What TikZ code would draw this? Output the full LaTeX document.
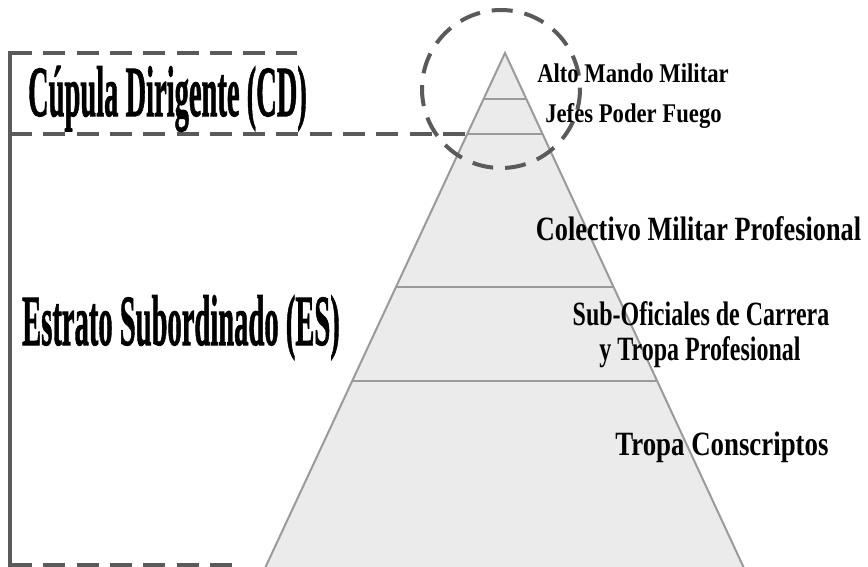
\documentclass[tikz,border=0pt]{standalone}
\usepackage{fontspec}
\usepackage{graphicx}
\usetikzlibrary{calc}
\setmainfont{Liberation Serif}
\newfontfamily\heavyf[FakeBold=1.4]{Liberation Serif Bold}
\definecolor{dgray}{HTML}{5A5A5A}
\definecolor{pgray}{HTML}{9A9A9A}
\definecolor{pfill}{HTML}{EBEBEB}
\newcommand{\sxb}[2]{\scalebox{#1}[1]{#2}}
\begin{document}
\begin{tikzpicture}[x=1pt,y=-1pt,
  bracketline/.style={draw=dgray, line width=4pt, dash pattern=on 22pt off 11.3pt},
  solidline/.style={draw=dgray, line width=4pt},
  ringline/.style={draw=dgray, line width=4pt, dash pattern=on 21pt off 12pt},
  pyrline/.style={draw=pgray, line width=2pt},
  bigtxt/.style={font=\fontsize{72}{72}\heavyf, inner sep=0pt, anchor=base},
  midtxt/.style={font=\fontsize{34}{38}\selectfont\bfseries, inner sep=0pt, anchor=base},
  smalltxt/.style={font=\fontsize{27}{27}\selectfont\bfseries, inner sep=0pt, anchor=base}]
\useasboundingbox (0,0) rectangle (868,566);
\clip (0,0) rectangle (868,566);
% pyramid geometry
\coordinate (apex) at (505,53);
\coordinate (bl) at (266,566);
\coordinate (br) at (743,566);
% bracket
\draw[bracketline] (10,53) -- (297,53);
\draw[bracketline] (10,134) -- (468,134);
\draw[bracketline] (10,565) -- (232,565);
\draw[solidline] (10,51) -- (10,570);
% pyramid
\fill[pfill] (apex) -- ($(apex)!1.05!(bl)$) -- ($(apex)!1.05!(br)$) -- cycle;
\draw[pyrline] ($(apex)!1.05!(bl)$) -- (apex) -- ($(apex)!1.05!(br)$);
\draw[pyrline] (483.6,99) -- (526.3,99);
\draw[pyrline] (467.3,134) -- (542.6,134);
\draw[pyrline] (395.6,287) -- (613.6,287);
\draw[pyrline] (351.8,381) -- (657.2,381);
% ring
\draw[ringline] (501,89) circle (79);
% labels
\node[bigtxt] (cd) at (167.5,116) {\sxb{0.396}{Cúpula Dirigente (CD)}};
\node[bigtxt] (es) at (181,345) {\sxb{0.397}{Estrato Subordinado (ES)}};
\node[smalltxt] (amm) at (633,82) {\sxb{0.84}{Alto Mando Militar}};
\node[smalltxt] (jpf) at (633.5,122) {\sxb{0.84}{Jefes Poder Fuego}};
\node[midtxt] (cmp) at (698.5,240) {\sxb{0.773}{Colectivo Militar Profesional}};
\node[midtxt] (soc) at (701,325) {\sxb{0.705}{Sub-Oficiales de Carrera}};
\node[midtxt] (ytp) at (700,360) {\sxb{0.705}{y Tropa Profesional}};
\node[midtxt] (tc) at (722,455) {\sxb{0.79}{Tropa Conscriptos}};
\end{tikzpicture}
\end{document}
